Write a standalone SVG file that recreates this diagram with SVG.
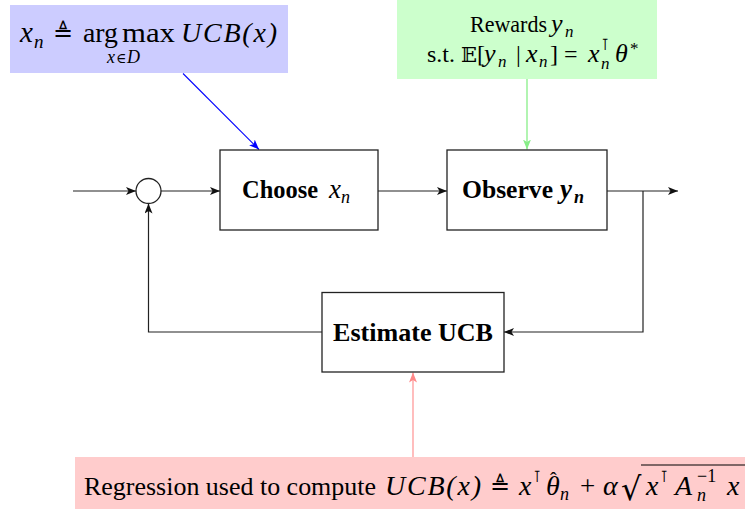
<svg xmlns="http://www.w3.org/2000/svg" width="745" height="514" viewBox="0 0 745 514">
<style>
.box{fill:#fff;stroke:#222;stroke-width:1.3}
.ln{fill:none;stroke:#222;stroke-width:1.2}
.b{font-weight:bold}
.i{font-style:italic}
</style>
<defs>
<marker id="ak" viewBox="0 0 10 8" refX="10" refY="4" markerWidth="10" markerHeight="8" markerUnits="userSpaceOnUse" orient="auto"><path d="M0,0 L10,4 L0,8 L2.5,4 z" fill="#111"/></marker>
<marker id="ab" viewBox="0 0 10 8" refX="10" refY="4" markerWidth="10" markerHeight="8" markerUnits="userSpaceOnUse" orient="auto"><path d="M0,0 L10,4 L0,8 L2.5,4 z" fill="#0000ff"/></marker>
<marker id="ag" viewBox="0 0 10 8" refX="10" refY="4" markerWidth="10" markerHeight="8" markerUnits="userSpaceOnUse" orient="auto"><path d="M0,0 L10,4 L0,8 L2.5,4 z" fill="#88ee88"/></marker>
<marker id="ar" viewBox="0 0 10 8" refX="10" refY="4" markerWidth="10" markerHeight="8" markerUnits="userSpaceOnUse" orient="auto"><path d="M0,0 L10,4 L0,8 L2.5,4 z" fill="#ff8888"/></marker>
</defs>
<rect width="745" height="514" fill="#fff"/>

<g id="connectors">
<path class="ln" d="M73,191 L136,191" marker-end="url(#ak)"/>
<path class="ln" d="M161,191 L220,191" marker-end="url(#ak)"/>
<path class="ln" d="M378,191 L447,191" marker-end="url(#ak)"/>
<path class="ln" d="M607,191 L678,191" marker-end="url(#ak)"/>
<path class="ln" d="M643,191 L643,332 L504,332" marker-end="url(#ak)"/>
<path class="ln" d="M322,332 L148.5,332 L148.5,203.5" marker-end="url(#ak)"/>
<path d="M183,73.5 L259,149.5" fill="none" stroke="#0000ff" stroke-width="1.1" marker-end="url(#ab)"/>
<path d="M527,79 L527,149.5" fill="none" stroke="#88ee88" stroke-width="1.3" marker-end="url(#ag)"/>
<path d="M413,457 L413,372.5" fill="none" stroke="#ff8888" stroke-width="1.1" marker-end="url(#ar)"/>
</g>

<g id="sum">
<circle cx="148.5" cy="191" r="12.5" fill="#fff" stroke="#222" stroke-width="1.3"/>
</g>

<g font-family="Liberation Serif, Times New Roman, serif" fill="#000">
<g id="choose">
<rect class="box" x="220" y="150" width="158" height="80"/>
<text class="b" x="242" y="198" font-size="26" textLength="76" lengthAdjust="spacingAndGlyphs">Choose</text>
<text class="i" x="329" y="198" font-size="27">x</text>
<text class="i" x="341" y="203" font-size="18">n</text>
</g>

<g id="observe">
<rect class="box" x="447" y="150" width="160" height="80"/>
<text class="b" x="462" y="198" font-size="26" textLength="91" lengthAdjust="spacingAndGlyphs">Observe</text>
<text class="b i" x="560" y="198" font-size="27">y</text>
<text class="b i" x="574" y="203" font-size="18">n</text>
</g>

<g id="estimate">
<rect class="box" x="322" y="292.5" width="182" height="79.5"/>
<text class="b" x="333" y="341" font-size="26" textLength="160" lengthAdjust="spacingAndGlyphs">Estimate UCB</text>
</g>

<g id="choose-note">
<rect x="10" y="5" width="278" height="68" fill="#ccccff"/>
<text class="i" x="20" y="42" font-size="29">x</text>
<text class="i" x="34" y="48" font-size="19">n</text>
<text font-family="DejaVu Serif, serif" x="53" y="41" font-size="24">≜</text>
<text x="83" y="42" font-size="27" textLength="35" lengthAdjust="spacingAndGlyphs">arg</text>
<text x="122" y="42" font-size="27" textLength="53" lengthAdjust="spacingAndGlyphs">max</text>
<text class="i" x="181" y="42" font-size="28" textLength="96" lengthAdjust="spacing">UCB(x)</text>
<text class="i" x="107" y="63" font-size="18">x</text>
<text font-family="DejaVu Serif, serif" x="116" y="63" font-size="14">∈</text>
<text class="i" x="127" y="63" font-size="18">D</text>
</g>

<g id="observe-note">
<rect x="397" y="0" width="260" height="79" fill="#ccffcc"/>
<text x="470" y="32" font-size="24" textLength="77" lengthAdjust="spacingAndGlyphs">Rewards</text>
<text class="i" x="551" y="32" font-size="26">y</text>
<text class="i" x="565" y="37" font-size="17">n</text>
<text x="427" y="62" font-size="24" textLength="28" lengthAdjust="spacingAndGlyphs">s.t.</text>
<text font-family="DejaVu Serif, DejaVu Sans, serif" x="461" y="62" font-size="21">𝔼</text>
<text x="477" y="62" font-size="24">[</text>
<text class="i" x="484" y="62" font-size="26">y</text>
<text class="i" x="498" y="67" font-size="17">n</text>
<text x="516" y="62" font-size="24">|</text>
<text class="i" x="526" y="62" font-size="26">x</text>
<text class="i" x="539" y="67" font-size="17">n</text>
<text x="550" y="62" font-size="24">]</text>
<text x="564" y="62" font-size="24">=</text>
<text class="i" x="588" y="62" font-size="26">x</text>
<text font-family="DejaVu Serif, serif" x="601" y="50" font-size="16">⊺</text>
<text class="i" x="601" y="69" font-size="17">n</text>
<text class="i" x="615" y="62" font-size="26">θ</text>
<text x="630" y="54" font-size="17">*</text>
</g>

<g id="regression-note">
<rect x="75" y="457" width="680" height="52" fill="#ffcccc"/>
<text x="84" y="495" font-size="26" textLength="292" lengthAdjust="spacingAndGlyphs">Regression used to compute</text>
<text class="i" x="385" y="495" font-size="28" textLength="96" lengthAdjust="spacing">UCB(x)</text>
<text font-family="DejaVu Serif, serif" x="490" y="494" font-size="24">≜</text>
<text class="i" x="519" y="495" font-size="28">x</text>
<text font-family="DejaVu Serif, serif" x="533" y="482" font-size="16">⊺</text>
<text class="i" x="546" y="495" font-size="28">θ</text>
<text x="550" y="487" font-size="20">ˆ</text>
<text class="i" x="560" y="500" font-size="18">n</text>
<text x="580" y="495" font-size="27">+</text>
<text class="i" x="603" y="495" font-size="28">α</text>
<text font-family="DejaVu Serif, serif" x="621" y="500" font-size="32">√</text>
<line x1="641" y1="465" x2="745" y2="465" stroke="#000" stroke-width="1.2"/>
<text class="i" x="646" y="495" font-size="28">x</text>
<text font-family="DejaVu Serif, serif" x="660" y="482" font-size="16">⊺</text>
<text class="i" x="675" y="495" font-size="28">A</text>
<text class="i" x="697" y="501" font-size="18">n</text>
<text x="697" y="482" font-size="18">−1</text>
<text class="i" x="727" y="495" font-size="28">x</text>
</g>
</g>
</svg>
